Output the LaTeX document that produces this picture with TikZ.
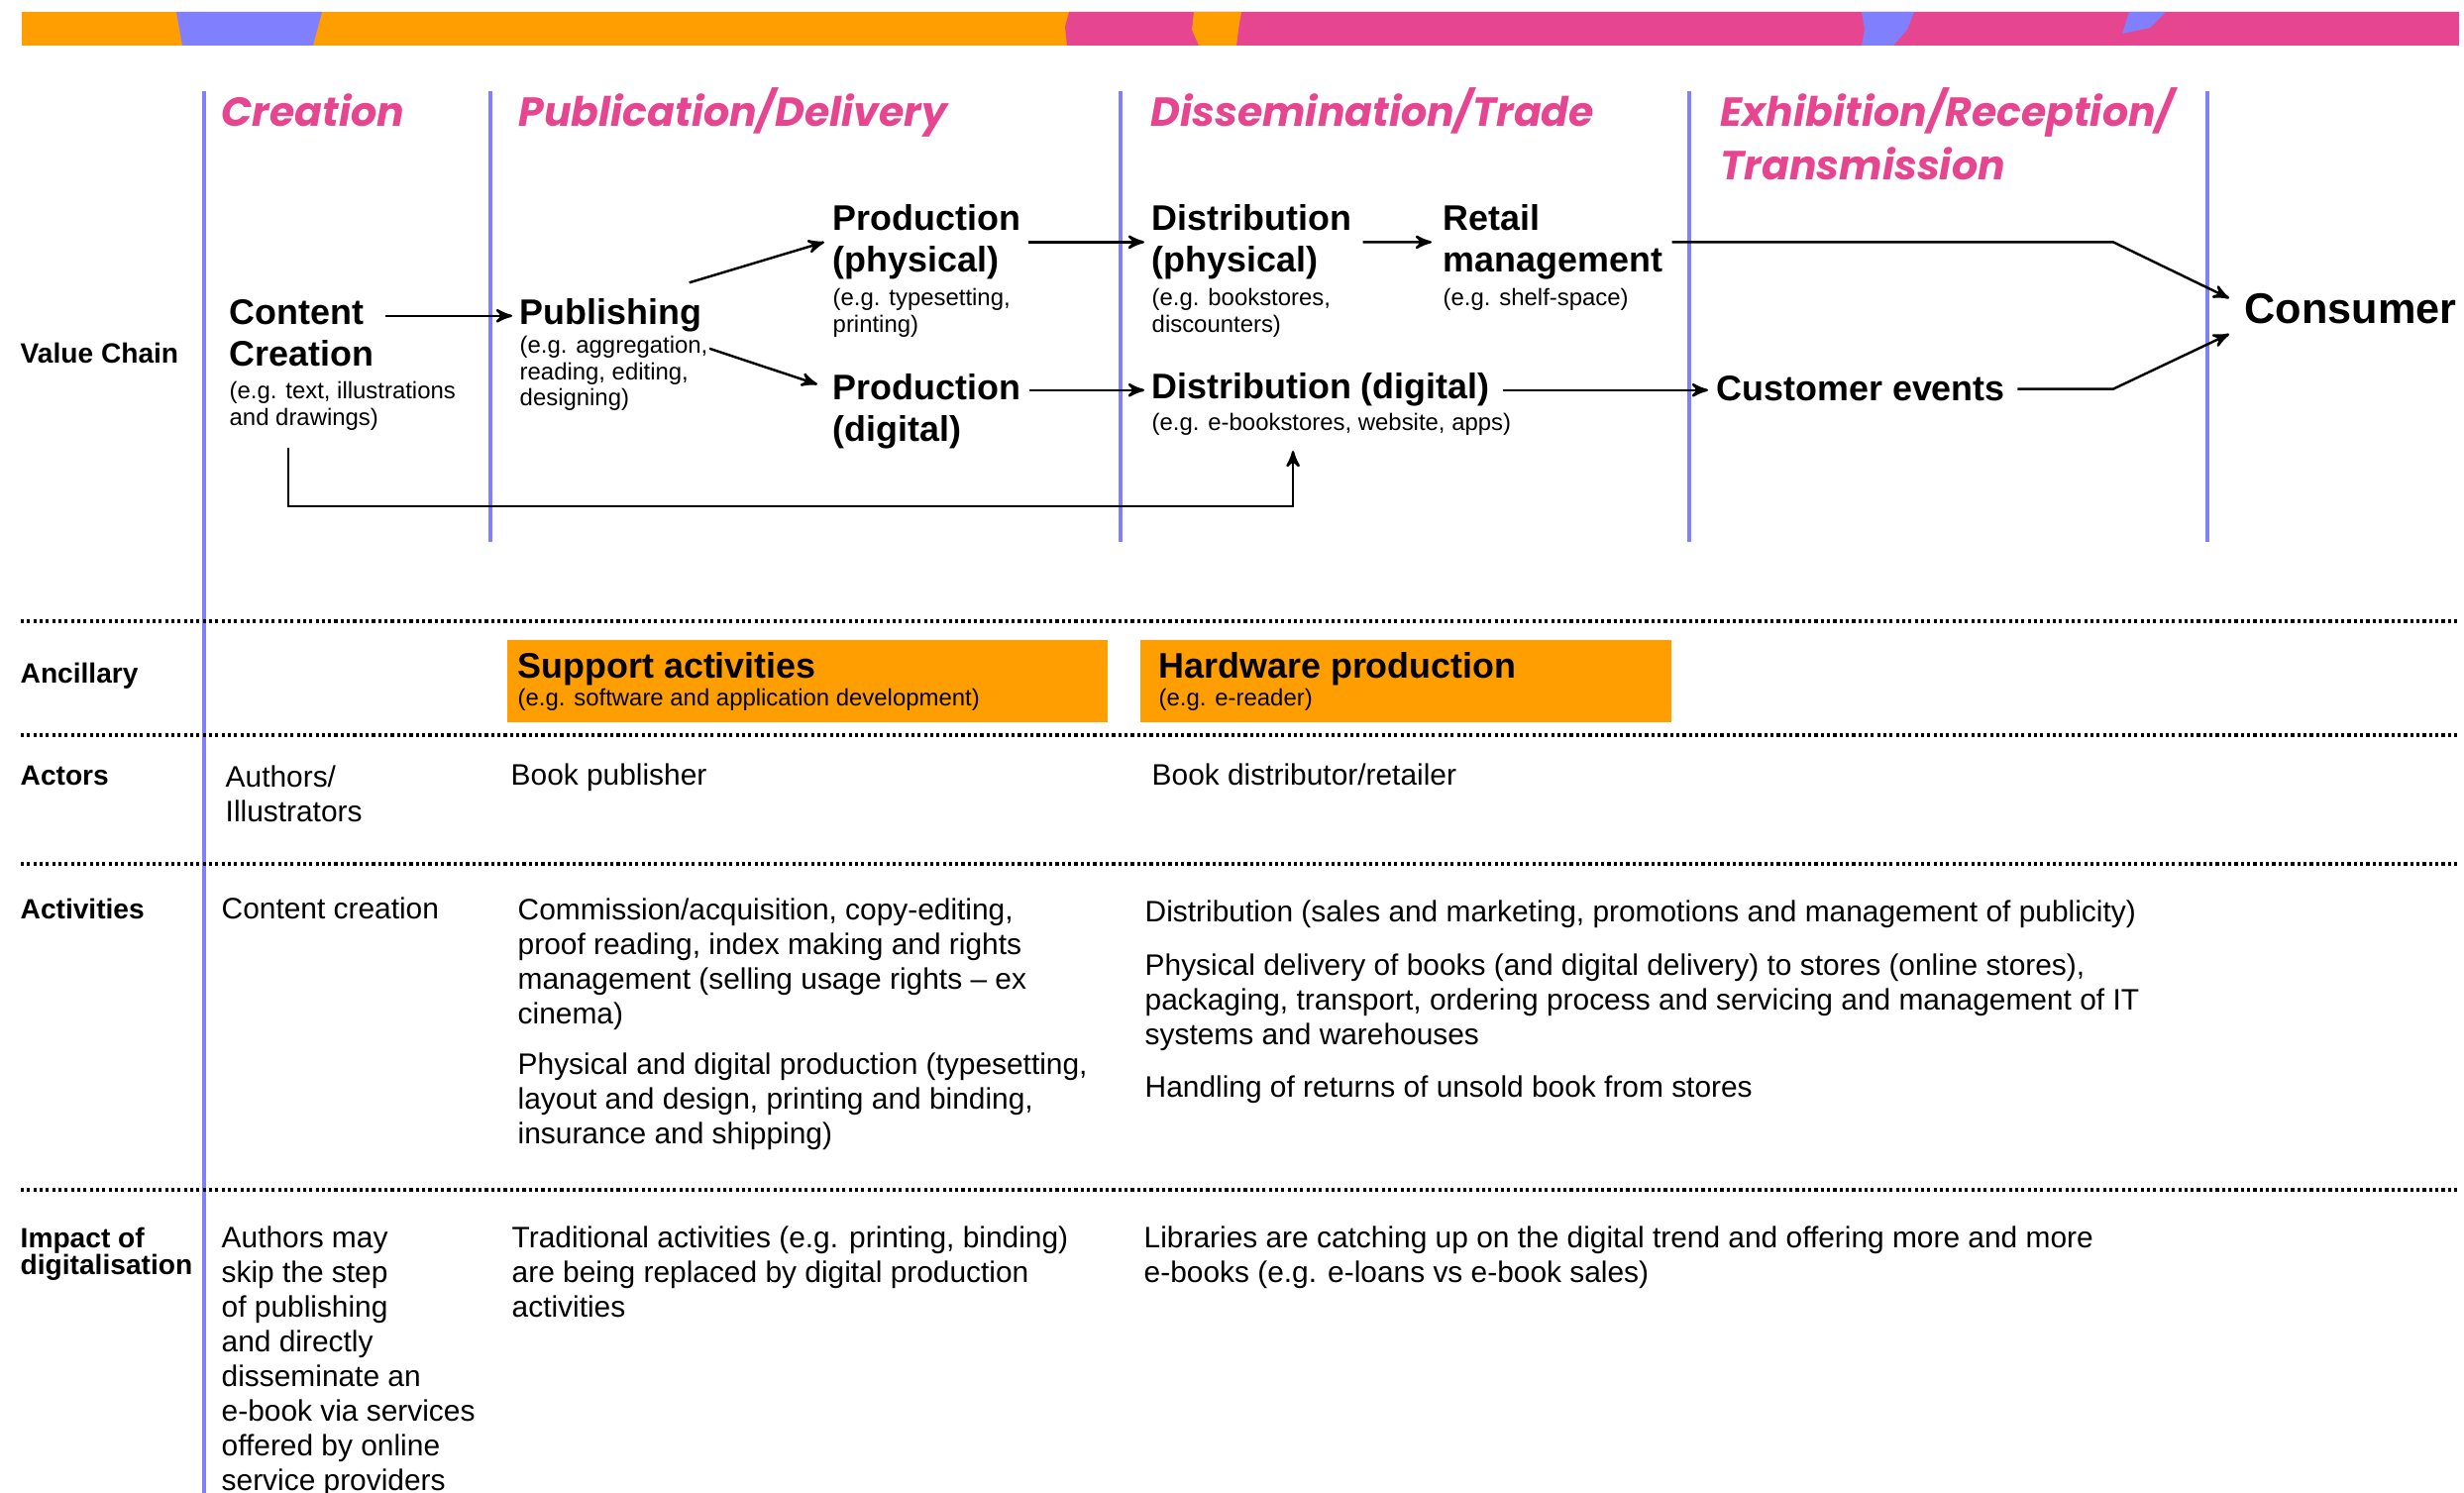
\documentclass[tikz,border=0pt]{standalone}
\usepackage{fontspec}
\setmainfont{Liberation Sans}
\newfontfamily\hdfont{Poppins}
\usetikzlibrary{positioning,arrows,calc}
\definecolor{vcorange}{RGB}{255,158,0}
\definecolor{vcpink}{RGB}{230,69,143}
\definecolor{vcblue}{RGB}{128,128,255}
\tikzset{
	>=stealth'
}

\begin{document}
\begin{tikzpicture}[
x = 0.01cm, y = -0.01cm,
node distance = 1mm,
every node/.style = {
	inner sep = 0pt,
	align = left,
	font = \fontsize{8.5}{9.95}\selectfont
},
phasehd/.style = {
	anchor = base west,
	text = vcpink,
	font = \hdfont\bfseries\itshape\fontsize{11.65}{15.4}\selectfont
},
rowlbl/.style = {
	anchor = base west,
	font = \bfseries\fontsize{8}{7.7}\selectfont
},
stagelbl/.style = {
	font = \bfseries\fontsize{10.2}{11.9}\selectfont
},
egtext/.style = {
	font = \fontsize{6.8}{7.5}\selectfont
},
ancbox/.style = {
	fill = vcorange,
	anchor = north west,
	minimum height = .83cm
},
bluerule/.style = {
	draw = vcblue,
	line width = 1.3pt
},
dotrule/.style = {
	line width = .9pt,
	dash pattern = on .9pt off .9pt
},
flowarrow/.style = {
	->,
	line width = .7pt
}
]
\useasboundingbox (0,0) rectangle (2487,1507);

% colour band
\fill[vcorange] (22,12) rectangle (1079,46);
\fill[vcpink] (1079,12) -- (1075,27) -- (1077,46) -- (2482,46) -- (2482,12) -- cycle;
\fill[vcblue] (178,12) -- (325,12) -- (316,46) -- (184,46) -- cycle;
\fill[vcorange] (1205,12) -- (1253,12) -- (1250,30) -- (1248,46) -- (1210,46) -- (1203,30) -- cycle;
\fill[vcblue] (1879,12) -- (1932,12) -- (1925,30) -- (1911,46) -- (1879,46) -- (1882,30) -- cycle;
\fill[vcblue] (2149,12) -- (2186,12) -- (2170,28) -- (2142,34) -- cycle;

% rules
\draw[bluerule] (206,92) -- (206,1507);
\foreach \x in {495,1131,1705,2228}
	\draw[bluerule] (\x,92) -- (\x,547);
\foreach \y in {627,742,872,1201}
	\draw[dotrule] (21,\y) -- (2482,\y);

% phases
\node (ph_cre) [phasehd] at (223,128) {Creation};
\node (ph_pub) [phasehd] at (523,128) {Publication/Delivery};
\node (ph_dis) [phasehd] at (1161,128) {Dissemination/Trade};
\node (ph_exh) [phasehd, anchor=north west] at (1736,88) {Exhibition/Reception/\\Transmission};

% row labels
\node (lbl_vc) [rowlbl] at (20,367) {Value Chain};
\node (lbl_anc) [rowlbl] at (20,690) {Ancillary};
\node (lbl_act) [rowlbl] at (20,793) {Actors};
\node (lbl_acv) [rowlbl] at (20,928) {Activities};
\node (lbl_imp) [rowlbl, anchor=north west] at (20,1238) {Impact of\\digitalisation};

% value chain
\node (content) [stagelbl, anchor=north west] at (231,302) {Content\\Creation};
\node (content_eg) [egtext, below right = 1.4mm and 0mm of content.south west] {(e.g. text, illustrations\\and drawings)};

\node (publishing) [stagelbl, anchor=base west] at (524,328) {Publishing};
\node (publishing_eg) [egtext, below right = .25mm and 0mm of publishing.south west] {(e.g. aggregation,\\reading, editing,\\designing)};

\node (prod_phys) [stagelbl, anchor=north west] at (840,206) {Production\\(physical)};
\node (prod_phys_eg) [egtext, below right = .8mm and 0mm of prod_phys.south west] {(e.g. typesetting,\\printing)};
\node (prod_dig) [stagelbl, anchor=north west] at (840,377) {Production\\(digital)};

\node (dist_phys) [stagelbl, anchor=north west] at (1162,206) {Distribution\\(physical)};
\node (dist_phys_eg) [egtext, below right = .8mm and 0mm of dist_phys.south west] {(e.g. bookstores,\\discounters)};
\node (retail) [stagelbl, anchor=north west] at (1456,206) {Retail\\management};
\node (retail_eg) [egtext, below right = .8mm and 0mm of retail.south west] {(e.g. shelf-space)};
\node (dist_dig) [stagelbl, anchor=base west] at (1162,403) {Distribution (digital)};
\node (dist_dig_eg) [egtext, below right = .5mm and 0mm of dist_dig.south west] {(e.g. e-bookstores, website, apps)};

\node (cust_events) [stagelbl, anchor=base west] at (1732,405) {Customer events};
\node (consumer) [anchor=base west, font=\bfseries\fontsize{12.3}{14}\selectfont] at (2265,327) {Consumer};

\coordinate (bend_hi) at (2133,244);
\coordinate (bend_lo) at (2133,394);

\draw[flowarrow, shorten <=1.1mm, shorten >=.7mm] (content.east |- publishing.west) -- (publishing.west);
\draw[flowarrow] ([xshift=-1.3mm,yshift=1.6mm]publishing.north east) -- ([xshift=-.8mm]prod_phys.west);
\draw[flowarrow] ([xshift=.1mm,yshift=-1.3mm]publishing_eg.north east) -- ([xshift=-1.5mm,yshift=-1.1mm]prod_dig.north west);
\draw[flowarrow, shorten <=.75mm, shorten >=.7mm] (prod_phys.east) -- (dist_phys.west);
\draw[flowarrow, shorten <=.8mm, shorten >=.7mm] (prod_dig.east |- dist_dig.west) -- (dist_dig.west);
\draw[flowarrow, shorten <=1.1mm, shorten >=1.1mm] (dist_phys.east) -- (retail.west);
\draw[flowarrow, shorten <=1.3mm, shorten >=.8mm] (dist_dig.east) -- (dist_dig.east -| cust_events.west);
\draw[flowarrow, shorten <=.9mm] (retail.east) -- (retail.east -| bend_hi) -- ([xshift=-1.5mm,yshift=1.1mm]consumer.west);
\draw[flowarrow, shorten <=1.2mm] (cust_events.east) -- (cust_events.east -| bend_lo) -- ([xshift=-1.5mm,yshift=-2.5mm]consumer.west);
\draw[flowarrow] ([xshift=6mm,yshift=-1.7mm]content_eg.south west) -- ++(0,59) -| ([xshift=14.3mm,yshift=-1.5mm]dist_dig_eg.south west);

% ancillary
\node (support) [ancbox, minimum width = 6.06cm] at (511,645) {};
\node (support_t) [stagelbl, below right = 1.3mm and 1.1mm of support.north west] {Support activities};
\node (support_eg) [egtext, below right = .2mm and 0mm of support_t.south west] {(e.g. software and application development)};
\node (hardware) [ancbox, minimum width = 5.36cm] at (1150,645) {};
\node (hardware_t) [stagelbl, below right = 1.3mm and 1.9mm of hardware.north west] {Hardware production};
\node (hardware_eg) [egtext, below right = .2mm and 0mm of hardware_t.south west] {(e.g. e-reader)};

% actors
\node (act_authors) [anchor=north west] at (227,772) {Authors/\\Illustrators};
\node (act_publisher) [anchor=base west] at (515,793) {Book publisher};
\node (act_retailer) [anchor=base west] at (1162,793) {Book distributor/retailer};

% activities
\node (acv_creation) [anchor=base west] at (223,928) {Content creation};
\node (acv_commission) [anchor=north west] at (522,906) {Commission/acquisition, copy-editing,\\proof reading, index making and rights\\management (selling usage rights – ex\\cinema)};
\node (acv_production) [below right = 2.2mm and 0mm of acv_commission.south west] {Physical and digital production (typesetting,\\layout and design, printing and binding,\\insurance and shipping)};
\node (acv_distribution) [anchor=base west] at (1155,931) {Distribution (sales and marketing, promotions and management of publicity)};
\node (acv_delivery) [below right = 2.4mm and 0mm of acv_distribution.south west] {Physical delivery of books (and digital delivery) to stores (online stores),\\packaging, transport, ordering process and servicing and management of IT\\systems and warehouses};
\node (acv_returns) [below right = 2.4mm and 0mm of acv_delivery.south west] {Handling of returns of unsold book from stores};

% impact
\node (imp_authors) [anchor=north west] at (223,1237) {Authors may\\skip the step\\of publishing\\and directly\\disseminate an\\e-book via services\\offered by online\\service providers};
\node (imp_traditional) [anchor=north west] at (516,1237) {Traditional activities (e.g. printing, binding)\\are being replaced by digital production\\activities};
\node (imp_libraries) [anchor=north west] at (1154,1237) {Libraries are catching up on the digital trend and offering more and more\\e-books (e.g. e-loans vs e-book sales)};

\end{tikzpicture}
\end{document}
